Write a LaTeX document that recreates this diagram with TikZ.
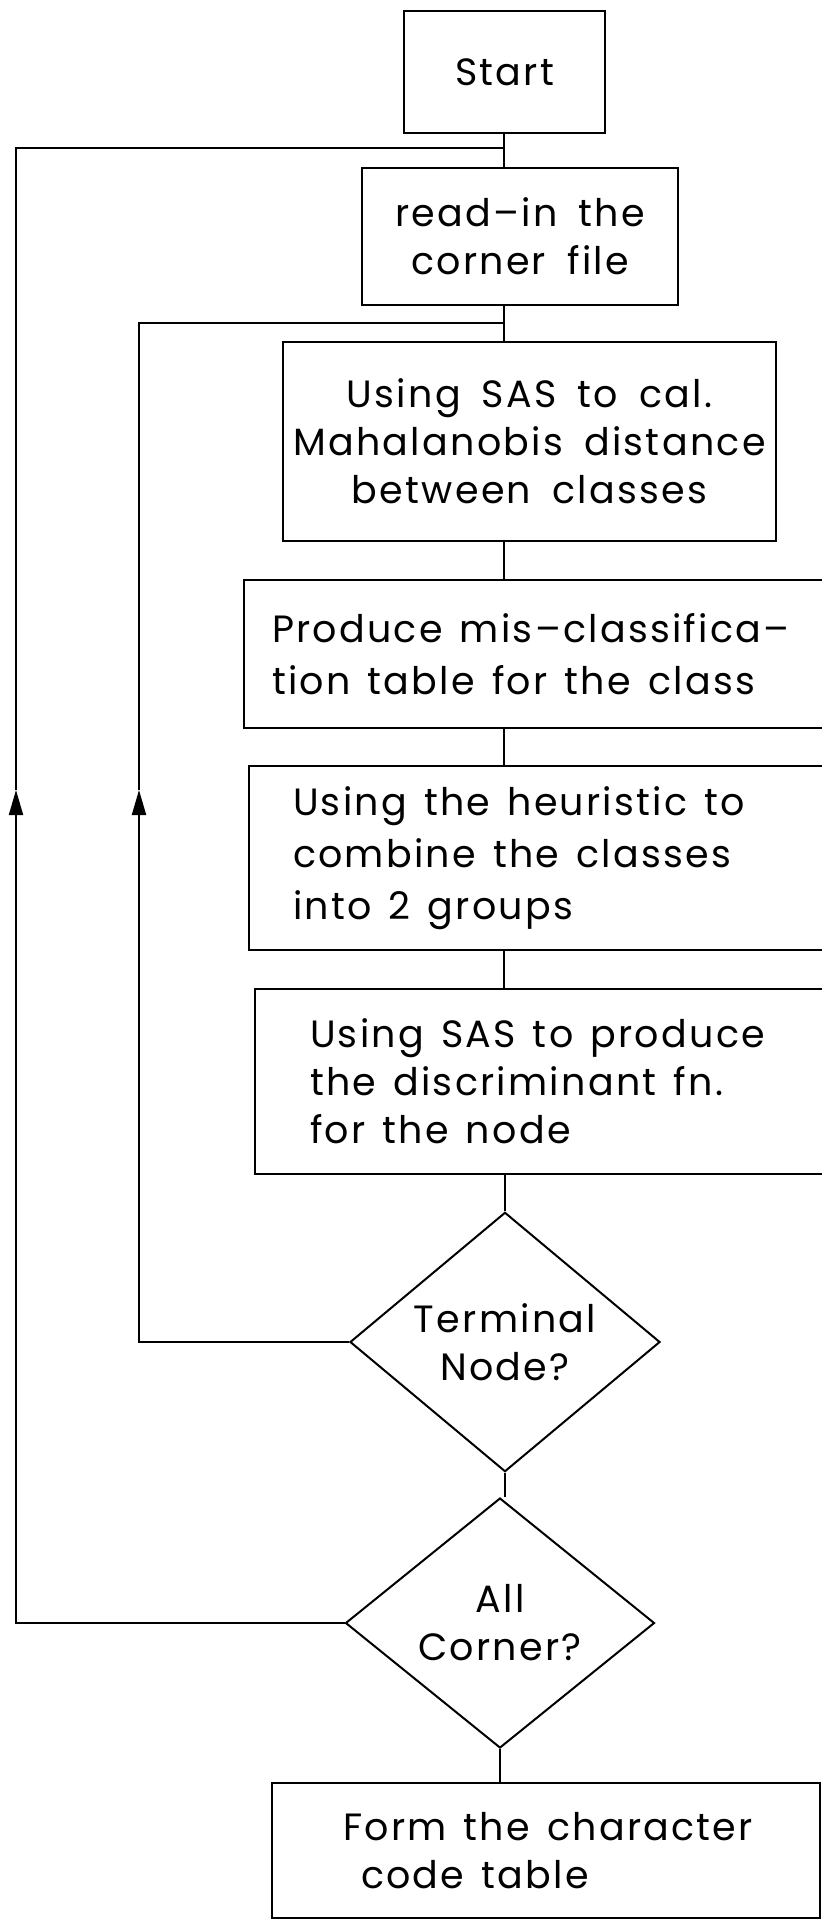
\documentclass[tikz,border=0pt]{standalone}
\usepackage{fontspec}
\setmainfont{Poppins}[LetterSpace=6,WordSpace=1.7]
\usetikzlibrary{arrows.meta,positioning,shapes.geometric}

\begin{document}
\begin{tikzpicture}[
  x=0.5pt,y=-0.5pt,
  line width=1pt,
  stepbox/.style={draw, rectangle, inner sep=0pt, font=\fontsize{19}{24}\selectfont},
  leftbox/.style={stepbox, align=left, execute at begin node={\spaceskip=0.45em\relax}},
  decide/.style={draw, diamond, inner sep=0pt, align=center, font=\fontsize{19}{24}\selectfont},
  arr/.style={-{Triangle[length=12.5pt,width=7pt]}}
]
\useasboundingbox (0,0) rectangle (822,1921);
\coordinate (spine) at (504,0);
\node[stepbox, minimum width=100.5pt, minimum height=61pt] (start) at (504.5,72) {Start};
\node[stepbox, align=center, minimum width=158pt, minimum height=68.5pt] (read) at (520,236.5) {read–in the\\corner file};
\node[stepbox, align=center, minimum width=246.5pt, minimum height=99.5pt] (cal) at (529.5,441.5) {Using SAS to cal.\\Mahalanobis distance\\between classes};
\node[leftbox, text width=300pt, inner xsep=14pt, minimum height=74pt, font=\fontsize{19}{26}\selectfont] (mis) at (572,654) {Produce mis–classifica–\\tion table for the class};
\node[leftbox, text width=300pt, inner xsep=22pt, minimum height=92pt, font=\fontsize{19}{26}\selectfont] (heur) at (593,858) {Using the heuristic to\\combine the classes\\into 2 groups};
\node[leftbox, text width=300pt, inner xsep=27.5pt, minimum height=92.5pt] (disc) at (610,1081.5) {Using SAS to produce\\the discriminant fn.\\for the node};
\node[decide, minimum width=155pt, minimum height=126pt] (term) at (505,1342) {Terminal\\Node?};
\node[decide, minimum width=154.5pt, minimum height=125pt] (all) at (500,1623) {All\\Corner?};
\node[leftbox, text width=203pt, inner xsep=35.5pt, minimum height=67.5pt] (form) at (546,1850.5) {Form~the~character\\\hspace*{9pt}code~table};

% main line
\draw (spine |- start.south) -- (spine |- read.north);
\draw (spine |- read.south) -- (spine |- cal.north);
\draw (spine |- cal.south) -- (spine |- mis.north);
\draw (spine |- mis.south) -- (spine |- heur.north);
\draw (spine |- heur.south) -- (spine |- disc.north);
\draw (term.north |- disc.south) -- (term.north);
\draw (term.south) -- (term.south |- all.north);
\draw (all.south) -- (all.south |- form.north);

% loops back
\coordinate (jouter) at (504,148);
\coordinate (jinner) at (504,323);
\coordinate (omid) at (16,790);
\coordinate (imid) at (139,790);
\draw[arr] (all.west) -| (omid);
\draw (omid) |- (jouter);
\draw[arr] (term.west) -| (imid);
\draw (imid) |- (jinner);
\end{tikzpicture}
\end{document}
